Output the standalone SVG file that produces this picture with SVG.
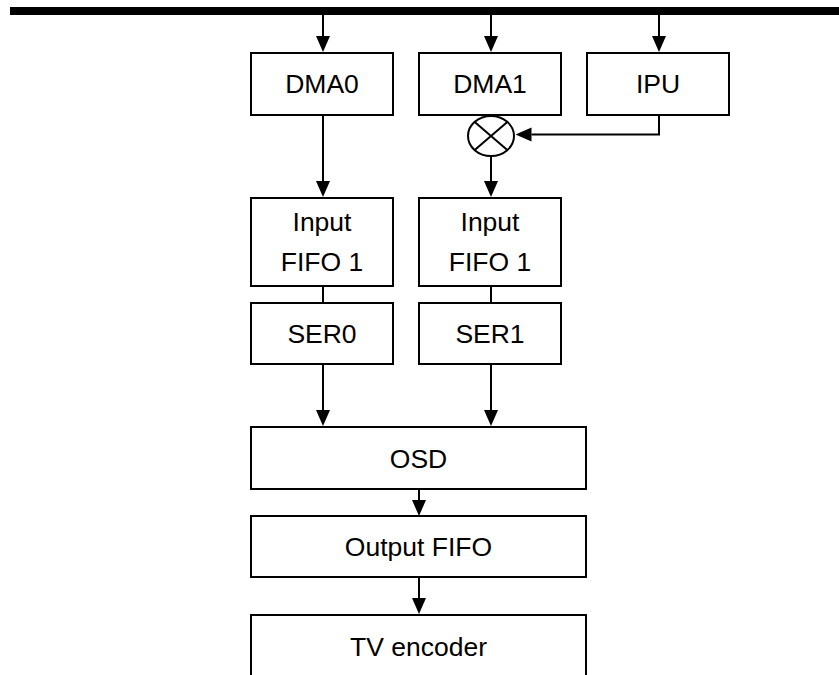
<svg xmlns="http://www.w3.org/2000/svg" width="839" height="675" viewBox="0 0 839 675">
<style>
.box{fill:#fff;stroke:#000;stroke-width:2}
.lbl{font-family:"Liberation Sans",Arial,sans-serif;font-size:26.5px;fill:#000;text-anchor:middle}
.con{fill:none;stroke:#000;stroke-width:2}
.arr{marker-end:url(#ah)}
</style>
<defs>
<marker id="ah" markerUnits="userSpaceOnUse" markerWidth="16" markerHeight="14" refX="0" refY="7" orient="auto" overflow="visible"><path d="M0,0 L16,7 L0,14 z" fill="#000"/></marker>
</defs>
<rect id="bus" x="10" y="7" width="829" height="8" fill="#000"/>
<g id="connectors">
<line class="con arr" x1="323" y1="15" x2="323" y2="36"/>
<line class="con arr" x1="491" y1="15" x2="491" y2="36"/>
<line class="con arr" x1="659" y1="15" x2="659" y2="36"/>
<line class="con arr" x1="323" y1="115" x2="323" y2="181"/>
<polyline class="con arr" points="659,115 659,134.5 531.5,134.5"/>
<line class="con arr" x1="491" y1="157" x2="491" y2="181"/>
<line class="con" x1="323" y1="286" x2="323" y2="303"/>
<line class="con" x1="491" y1="286" x2="491" y2="303"/>
<line class="con arr" x1="323" y1="364" x2="323" y2="410"/>
<line class="con arr" x1="491" y1="364" x2="491" y2="410"/>
<line class="con arr" x1="419" y1="489" x2="419" y2="500"/>
<line class="con arr" x1="419" y1="577" x2="419" y2="598"/>
</g>
<g id="dma0"><rect class="box" x="251" y="53" width="142" height="62"/><text class="lbl" x="322" y="93">DMA0</text></g>
<g id="dma1"><rect class="box" x="419" y="53" width="142" height="62"/><text class="lbl" x="490" y="93">DMA1</text></g>
<g id="ipu"><rect class="box" x="587" y="53" width="142" height="62"/><text class="lbl" x="658" y="93">IPU</text></g>
<g id="mux"><ellipse cx="491" cy="136" rx="23" ry="20" fill="#fff" stroke="#000" stroke-width="2"/><line x1="474.7" y1="121.9" x2="507.3" y2="150.1" stroke="#000" stroke-width="2"/><line x1="474.7" y1="150.1" x2="507.3" y2="121.9" stroke="#000" stroke-width="2"/></g>
<g id="fifo0"><rect class="box" x="251" y="198" width="142" height="88"/><text class="lbl" x="322" y="231">Input</text><text class="lbl" x="322" y="271">FIFO 1</text></g>
<g id="fifo1"><rect class="box" x="419" y="198" width="142" height="88"/><text class="lbl" x="490" y="231">Input</text><text class="lbl" x="490" y="271">FIFO 1</text></g>
<g id="ser0"><rect class="box" x="251" y="303" width="142" height="61"/><text class="lbl" x="322" y="343">SER0</text></g>
<g id="ser1"><rect class="box" x="419" y="303" width="142" height="61"/><text class="lbl" x="490" y="343">SER1</text></g>
<g id="osd"><rect class="box" x="251" y="427" width="335" height="62"/><text class="lbl" x="418.5" y="468">OSD</text></g>
<g id="outfifo"><rect class="box" x="251" y="516" width="335" height="61"/><text class="lbl" x="418.5" y="556">Output FIFO</text></g>
<g id="tvenc"><rect class="box" x="251" y="615" width="335" height="80"/><text class="lbl" x="418.5" y="655.5">TV encoder</text></g>
</svg>
